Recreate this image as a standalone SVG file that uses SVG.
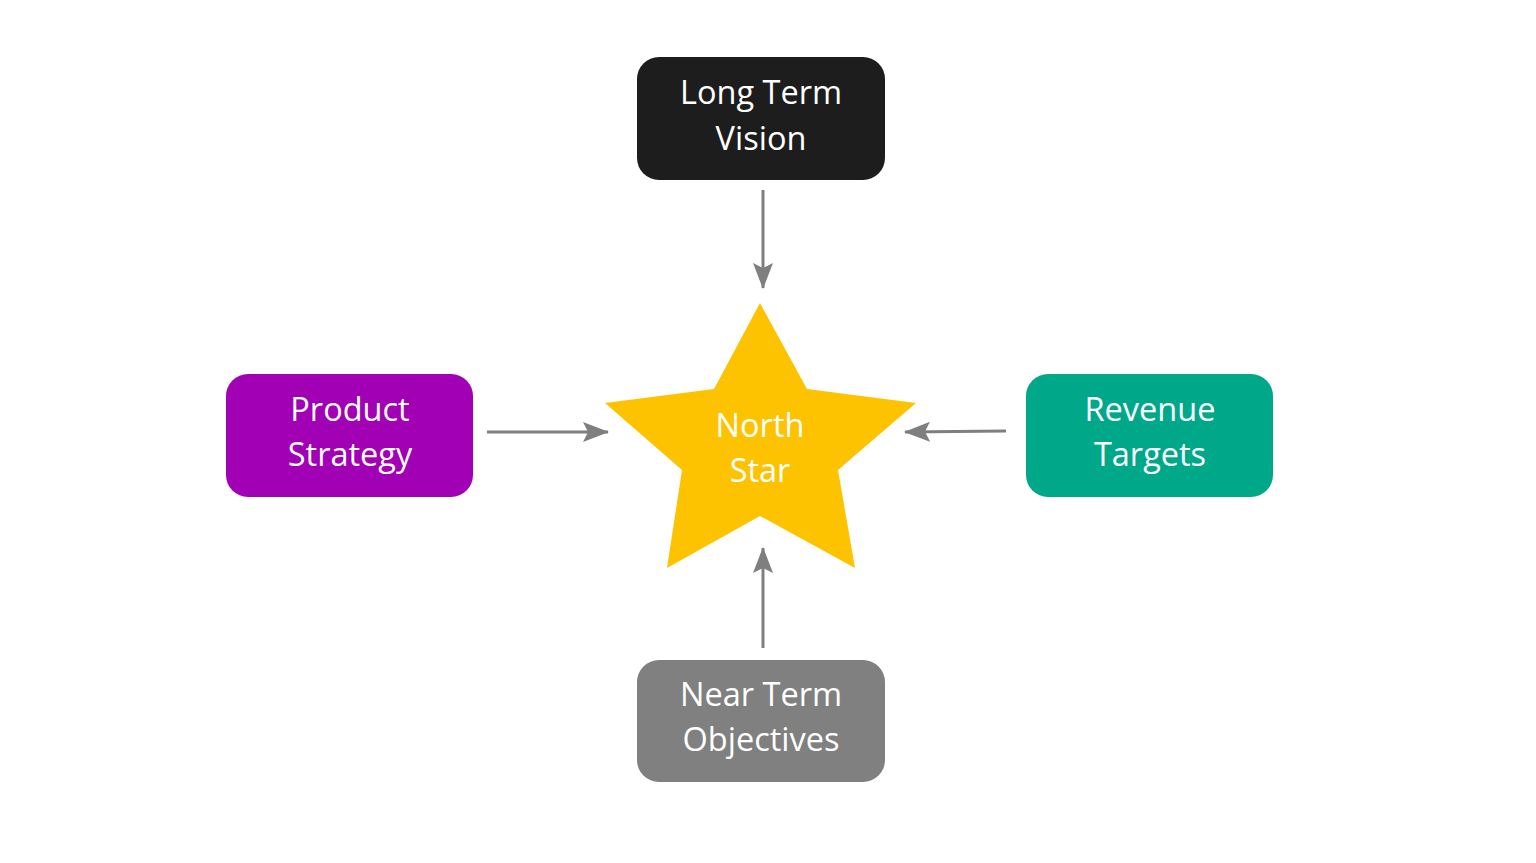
<svg xmlns="http://www.w3.org/2000/svg" width="1536" height="863" viewBox="0 0 1536 863">
<defs>
<style>
.lbl{font-family:"Open Sans","Noto Sans",sans-serif;font-size:32.5px;fill:#ffffff;text-anchor:middle}
.box{stroke:none}
.conn{stroke:#7f7f7f;stroke-width:3;fill:none}
</style>
<marker id="ah" viewBox="0 0 26 20" refX="25" refY="10" markerWidth="26" markerHeight="20" markerUnits="userSpaceOnUse" orient="auto">
<path d="M0,0 L26,10 L0,20 L5,10 Z" fill="#7f7f7f"/>
</marker>
</defs>
<rect width="1536" height="863" fill="#ffffff"/>
<g id="connectors">
<line class="conn" x1="763" y1="190" x2="763" y2="288" marker-end="url(#ah)"/>
<line class="conn" x1="487" y1="432" x2="608" y2="432" marker-end="url(#ah)"/>
<line class="conn" x1="1006" y1="431" x2="905" y2="432" marker-end="url(#ah)"/>
<line class="conn" x1="763" y1="648" x2="763" y2="548" marker-end="url(#ah)"/>
</g>
<g id="north-star">
<polygon points="760,303 807,389 916,403 838,470 855,568 760,516 667,568 682,470 605,403 714,389" fill="#fdc300"/>
<text class="lbl" x="760" y="437">North</text>
<text class="lbl" x="760" y="482">Star</text>
</g>
<g id="long-term-vision">
<rect class="box" x="637" y="57" width="248" height="123" rx="22" fill="#1d1d1d"/>
<text class="lbl" x="761" y="104">Long Term</text>
<text class="lbl" x="761" y="150">Vision</text>
</g>
<g id="product-strategy">
<rect class="box" x="226" y="374" width="247" height="123" rx="22" fill="#a100b4"/>
<text class="lbl" x="350" y="421">Product</text>
<text class="lbl" x="350" y="466">Strategy</text>
</g>
<g id="revenue-targets">
<rect class="box" x="1026" y="374" width="247" height="123" rx="22" fill="#00a88a"/>
<text class="lbl" x="1150" y="421">Revenue</text>
<text class="lbl" x="1150" y="466">Targets</text>
</g>
<g id="near-term-objectives">
<rect class="box" x="637" y="660" width="248" height="122" rx="22" fill="#808080"/>
<text class="lbl" x="761" y="706">Near Term</text>
<text class="lbl" x="761" y="751">Objectives</text>
</g>
</svg>
